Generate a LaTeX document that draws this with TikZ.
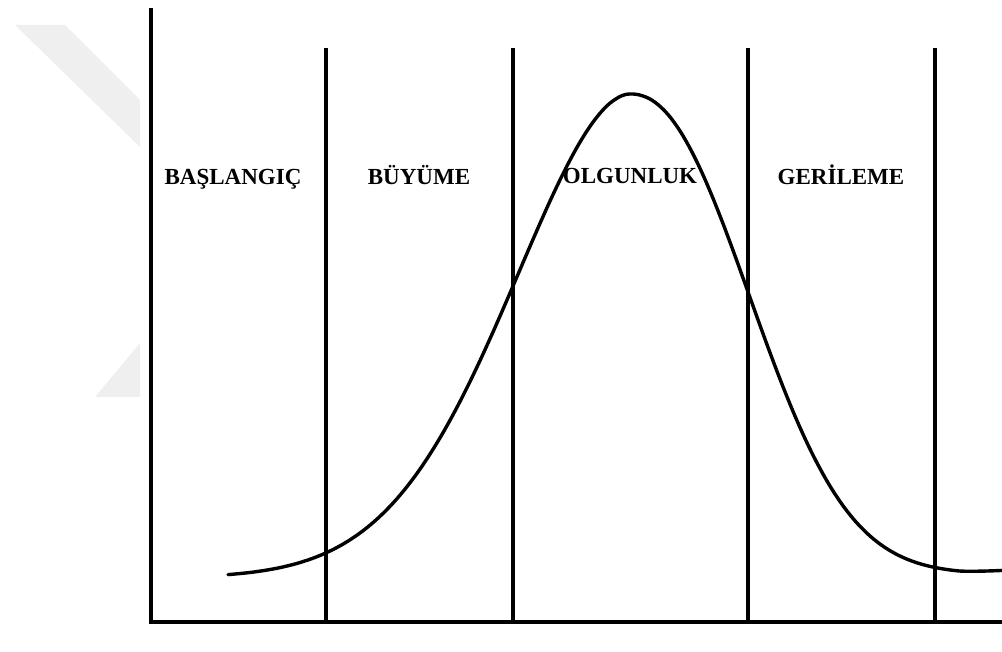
\documentclass[tikz,border=0pt]{standalone}
\usepackage{fontspec}
\setmainfont{Liberation Serif}
\usepackage{xcolor}
\usepackage{tikz}
\usetikzlibrary{positioning}
\definecolor{wmark}{HTML}{EFEFEF}
\tikzset{
  axisln/.style={line width=3.8pt,black},
  sepln/.style={line width=3.1pt,black},
  lifecurve/.style={line width=3.4pt,black,line cap=round},
  phase/.style={font=\bfseries\fontsize{23}{27}\selectfont,inner sep=0pt,anchor=base}
}

\begin{document}
\begin{tikzpicture}[x=1pt,y=-1pt]
\useasboundingbox (0,0) rectangle (1002,652);
% faint background mark
\fill[wmark] (15,25)--(65,25)--(140,100)--(140,147)--cycle;
\fill[wmark] (95,397)--(140,343)--(140,397)--cycle;
% axes
\draw[axisln] (151,8)--(151,622)--(1002,622);
\foreach \xs in {326,513,748,935}{\draw[sepln] (\xs,48)--(\xs,622);}
% stage labels
\node[phase] (baslangic) at (233,185) {BAŞLANGIÇ};
\node[phase] (buyume) at (419,185) {BÜYÜME};
\node[phase] (olgunluk) at (630,184) {OLGUNLUK};
\node[phase] (gerileme) at (841,185) {GERİLEME};
% life cycle curve, rising and falling side
\draw[lifecurve] plot[domain=228:630,samples=120,smooth]
  ({\x},{578-484*exp(-((630.01-\x)/100)^1.85/2.645)})
  -- plot[domain=630:1002,samples=120,smooth]
  ({\x},{574-480*exp(-((\x-629.99)/100)^2.2/2.707)-max(0,\x-960)*0.07});
\end{tikzpicture}
\end{document}
